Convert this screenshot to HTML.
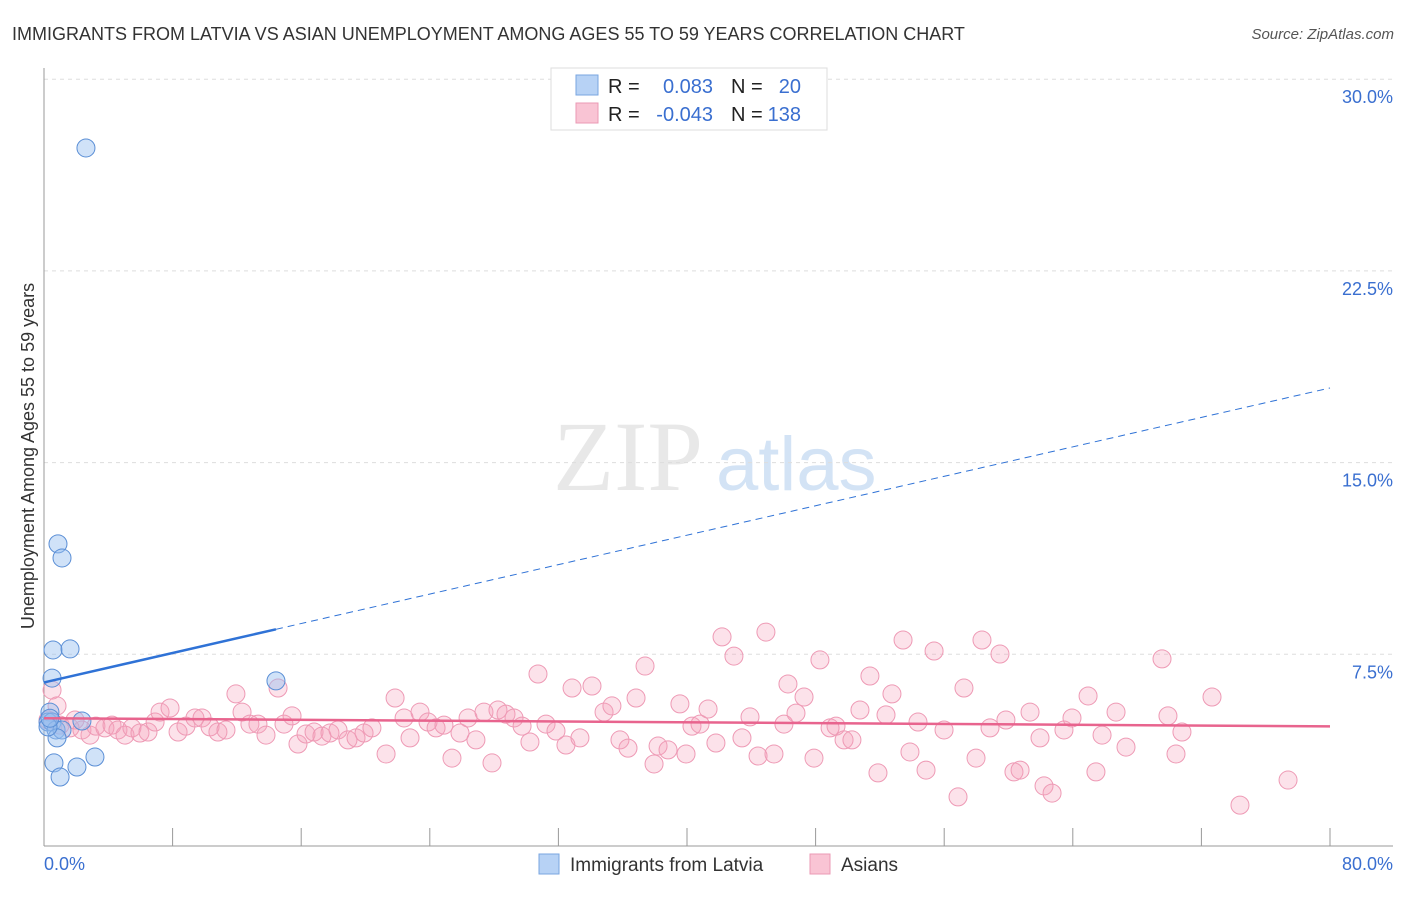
<!DOCTYPE html>
<html><head><meta charset="utf-8"><style>
body{margin:0;background:#fff;font-family:"Liberation Sans",sans-serif;}
svg text{font-family:"Liberation Sans",sans-serif;}
</style></head><body>
<svg id="chart" width="1406" height="892" viewBox="0 0 1406 892">
<text x="12" y="40" font-size="18" fill="#333">IMMIGRANTS FROM LATVIA VS ASIAN UNEMPLOYMENT AMONG AGES 55 TO 59 YEARS CORRELATION CHART</text>
<text x="1394" y="39" font-size="15" fill="#555" font-style="italic" text-anchor="end">Source: ZipAtlas.com</text>
<g>
<text x="553" y="490" font-size="100" fill="#e8e8e8" font-family="Liberation Serif, serif" style="font-family:'Liberation Serif',serif">ZIP</text>
<text x="716" y="490" font-size="76" fill="#d3e3f5">atlas</text>
</g>
<g id="grid"></g>
<g id="axes"></g>
<g id="marks"></g>
<text transform="translate(34,456) rotate(-90)" font-size="18" fill="#333" text-anchor="middle">Unemployment Among Ages 55 to 59 years</text>
<g>
<rect x="551" y="68" width="276" height="62" fill="#fff" stroke="#ddd"/>
<rect x="576" y="75" width="22" height="20" fill="#b7d2f5" stroke="#7aa6e0"/>
<rect x="576" y="103" width="22" height="20" fill="#f9c4d4" stroke="#eb9ab4"/>
<text x="608" y="93" font-size="20" fill="#222">R =</text>
<text x="713" y="93" font-size="20" fill="#3a6fd0" text-anchor="end">0.083</text>
<text x="731" y="93" font-size="20" fill="#222">N =</text>
<text x="801" y="93" font-size="20" fill="#3a6fd0" text-anchor="end">20</text>
<text x="608" y="121" font-size="20" fill="#222">R =</text>
<text x="713" y="121" font-size="20" fill="#3a6fd0" text-anchor="end">-0.043</text>
<text x="731" y="121" font-size="20" fill="#222">N =</text>
<text x="801" y="121" font-size="20" fill="#3a6fd0" text-anchor="end">138</text>
</g>
<g>
<rect x="539" y="854" width="20" height="20" fill="#b7d2f5" stroke="#7aa6e0"/>
<text x="570" y="871" font-size="19" fill="#333">Immigrants from Latvia</text>
<rect x="810" y="854" width="20" height="20" fill="#f9c4d4" stroke="#eb9ab4"/>
<text x="841" y="871" font-size="19" fill="#333">Asians</text>
</g>
</svg>
<script>
const yTicks=[7.5,15,22.5,30];
const yTickLabels=["7.5%","15.0%","22.5%","30.0%"];
const xTicks=[0,8,16,24,32,40,48,56,64,72,80];
const xEndLabels=["0.0%","80.0%"];
const latviaX=[2.61,0.87,1.12,0.56,1.62,0.5,14.43,0.37,0.25,0.5,0.75,1.12,2.36,0.81,0.62,2.05,1.0,3.17,0.25,0.37];
const latviaY=[27.31,11.82,11.27,7.67,7.71,6.57,6.46,5.24,4.85,4.85,4.54,4.54,4.89,4.23,3.25,3.09,2.7,3.48,4.66,5.0];
const asianX=[0.5,0.81,0.25,1.0,1.62,1.93,2.36,2.86,3.23,3.79,4.23,4.6,5.04,5.47,5.97,6.47,6.91,7.22,7.84,8.34,8.83,9.39,9.83,10.33,10.82,11.32,11.94,12.32,12.81,13.31,13.81,14.56,14.93,15.43,15.8,16.3,16.8,17.29,17.79,18.29,18.91,19.41,19.91,20.4,21.28,21.84,22.4,22.77,23.39,23.89,24.39,24.88,25.38,25.88,26.38,26.87,27.37,27.87,28.24,28.74,29.24,29.74,30.23,30.73,31.23,31.85,32.47,32.85,33.34,34.09,34.84,35.33,35.83,36.33,36.83,37.39,37.95,38.2,38.82,39.56,39.94,40.31,40.81,41.31,41.8,42.18,42.92,43.42,43.92,44.42,44.91,45.41,46.03,46.28,46.78,47.28,47.9,48.27,48.9,49.27,49.77,50.26,50.76,51.38,51.88,52.75,52.38,53.44,53.87,54.37,54.87,55.37,55.99,56.86,57.23,57.98,58.35,58.85,59.47,59.84,60.34,60.72,61.34,61.96,62.21,62.71,63.45,63.95,64.95,65.44,65.82,66.69,67.31,69.55,69.92,70.42,70.79,72.66,74.4,77.39];
const asianY=[6.1,5.48,4.93,4.73,4.62,4.93,4.54,4.34,4.69,4.62,4.73,4.54,4.34,4.62,4.42,4.46,4.85,5.24,5.4,4.46,4.69,5.01,5.01,4.66,4.46,4.54,5.95,5.24,4.77,4.77,4.34,6.18,4.77,5.09,3.99,4.38,4.46,4.3,4.42,4.54,4.15,4.23,4.42,4.62,3.6,5.79,5.01,4.23,5.24,4.85,4.62,4.73,3.44,4.42,5.01,4.15,5.24,3.25,5.32,5.16,5.01,4.69,4.07,6.73,4.77,4.5,3.95,6.18,4.23,6.26,5.24,5.48,4.15,3.83,5.79,7.04,3.21,3.91,3.76,5.56,3.6,4.69,4.77,5.36,4.03,8.18,7.43,4.23,5.05,3.52,8.37,3.6,4.77,6.34,5.2,5.83,3.44,7.28,4.62,4.69,4.15,4.15,5.32,6.65,2.86,5.95,5.13,8.06,3.68,4.85,2.97,7.63,4.54,1.92,6.18,3.44,8.06,4.62,7.51,4.93,2.9,2.97,5.24,4.23,2.35,2.07,4.54,5.01,5.87,2.9,4.34,5.24,3.87,7.32,5.09,3.6,4.46,5.83,1.6,2.58];
const latviaFit=[6.4,0.144];
const asianFit=[5.0,-0.004];
const NS="http://www.w3.org/2000/svg";
const X0=44,X1=1330,Y0=846,YPER=25.56;
const xs=v=>X0+(v/80)*(X1-X0);
const ys=v=>Y0-v*YPER;
function mk(tag,attrs,parent){const e=document.createElementNS(NS,tag);for(const k in attrs)e.setAttribute(k,attrs[k]);parent.appendChild(e);return e;}
const grid=document.getElementById('grid'),axes=document.getElementById('axes'),marks=document.getElementById('marks');
yTicks.forEach((t,i)=>{
 const l=mk('line',{x1:44,x2:1393,y1:ys(t),y2:ys(t),stroke:'#ddd','stroke-dasharray':'4,4'},grid);
 
 
 const tx=mk('text',{x:1393,y:ys(t)+24,'font-size':18,fill:'#3a6fd0','text-anchor':'end'},axes);
 tx.textContent=yTickLabels[i];
 
 
});
const ax=mk('line',{x1:44,x2:1393,y1:Y0,y2:Y0,stroke:'#999'},axes);


const ay=mk('line',{x1:44,x2:44,y1:68,y2:Y0,stroke:'#999'},axes);


xTicks.forEach(t=>{
 const l=mk('line',{x1:xs(t),x2:xs(t),y1:828,y2:Y0,stroke:'#999'},axes);
 
 
});
const xl0=mk('text',{x:44,y:870,'font-size':18,fill:'#3a6fd0'},axes);
xl0.textContent=xEndLabels[0];


const xl1=mk('text',{x:1393,y:870,'font-size':18,fill:'#3a6fd0','text-anchor':'end'},axes);
xl1.textContent=xEndLabels[1];


asianX.forEach((x,i)=>{
 const c=mk('circle',{cx:xs(x),cy:ys(asianY[i]),r:9,fill:'rgba(244,160,185,0.3)',stroke:'#ee9ab5','stroke-width':1},marks);
 
 
});
latviaX.forEach((x,i)=>{
 const c=mk('circle',{cx:xs(x),cy:ys(latviaY[i]),r:9,fill:'rgba(150,190,240,0.45)',stroke:'#5b8fd6','stroke-width':1},marks);
 
 
});
const lf=x=>latviaFit[0]+latviaFit[1]*x, af=x=>asianFit[0]+asianFit[1]*x;
const xmaxL=Math.max(...latviaX);
const t1=mk('line',{x1:xs(0),y1:ys(lf(0)),x2:xs(xmaxL),y2:ys(lf(xmaxL)),stroke:'#2f72d6','stroke-width':2.5},marks);


const t2=mk('line',{x1:xs(xmaxL),y1:ys(lf(xmaxL)),x2:xs(80),y2:ys(lf(80)),stroke:'#2f72d6','stroke-width':1,'stroke-dasharray':'7,5'},marks);


const t3=mk('line',{x1:xs(0),y1:ys(af(0)),x2:xs(80),y2:ys(af(80)),stroke:'#e8648e','stroke-width':2.5},marks);


</script>
</body></html>
